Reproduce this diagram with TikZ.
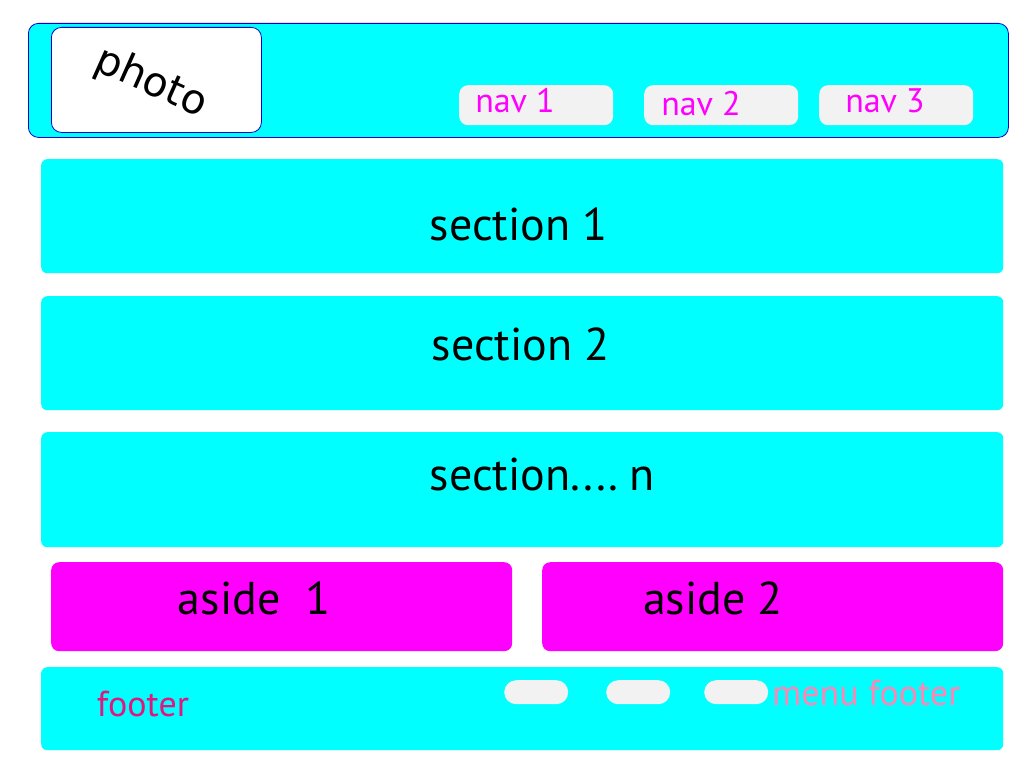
\documentclass[tikz,border=0pt]{standalone}
\usepackage{fontspec}
\setmainfont{PT Sans}
\newfontfamily\photofont{DejaVu Sans}
\definecolor{cyanbox}{HTML}{00FFFF}
\definecolor{borderblue}{HTML}{0000CC}
\definecolor{navgrey}{HTML}{F2F2F2}
\definecolor{magentabox}{HTML}{FF00FF}
\definecolor{footerpink}{HTML}{E3167F}
\definecolor{menupink}{HTML}{FF85B4}
\begin{document}
\begin{tikzpicture}[x=1pt,y=-1pt,
  box/.style={rectangle, inner sep=0pt, anchor=north west, rounded corners=6pt},
  cyanblock/.style={box, fill=cyanbox},
  navbtn/.style={box, fill=navgrey, rounded corners=9pt, minimum width=154pt, minimum height=40pt},
  pill/.style={box, fill=navgrey, rounded corners=12pt, minimum width=64pt, minimum height=24pt},
  navtext/.style={text=magentabox, font=\fontsize{34}{36}\selectfont, inner sep=0pt},
  bigtext/.style={text=black, font=\fontsize{46}{50}\selectfont, inner sep=0pt},
]
\useasboundingbox (0,0) rectangle (1024,768);
\fill[white] (0,0) rectangle (1024,768);

% header
\node[box, fill=cyanbox, draw=borderblue, line width=0.8pt, rounded corners=10pt,
      minimum width=980pt, minimum height=114pt] (header) at (28,23) {};
\node[box, fill=white, draw=borderblue, line width=0.8pt, rounded corners=10pt,
      minimum width=210pt, minimum height=105pt] (photobox) at (51,27) {};
\node[rotate=-24, inner sep=0pt, font=\photofont\fontsize{41}{43}\selectfont] (photo) at (151,83) {photo};

\node[navbtn] (nav1) at (459,85) {};
\node[navbtn] (nav2) at (644,85) {};
\node[navbtn] (nav3) at (819,85) {};
\node[navtext] (nav1t) at (515,101) {nav 1};
\node[navtext] (nav2t) at (701,104) {nav 2};
\node[navtext] (nav3t) at (885,101) {nav 3};

% sections
\node[cyanblock, minimum width=962pt, minimum height=114pt] (sec1) at (41,159) {};
\node[cyanblock, minimum width=962pt, minimum height=114pt] (sec2) at (41,296) {};
\node[cyanblock, minimum width=962pt, minimum height=115pt] (secn) at (41,432) {};
\node[bigtext] (sec1t) at (519,224) {section 1};
\node[bigtext] (sec2t) at (521,344) {section 2};
\node[bigtext] (secnt) at (542,474) {section....\kern-2pt\ n};

% asides
\node[box, fill=magentabox, rounded corners=8pt, minimum width=461pt, minimum height=89pt] (aside1) at (51,562) {};
\node[box, fill=magentabox, rounded corners=8pt, minimum width=461pt, minimum height=89pt] (aside2) at (542,562) {};
\node[bigtext] (aside1t) at (254,598) {aside\ \ 1};
\node[bigtext] (aside2t) at (713,598) {aside 2};

% footer
\node[cyanblock, minimum width=962pt, minimum height=83pt] (footer) at (41,667) {};
\node[text=footerpink, inner sep=0pt, font=\fontsize{36}{38}\selectfont] (footert) at (143,704) {footer};
\node[pill] (p1) at (504,680) {};
\node[pill] (p2) at (606,680) {};
\node[pill] (p3) at (704,680) {};
\node[text=menupink, inner sep=0pt, anchor=west, font=\fontsize{36}{38}\selectfont] (menut) at (772,693) {menu footer};
\end{tikzpicture}
\end{document}
